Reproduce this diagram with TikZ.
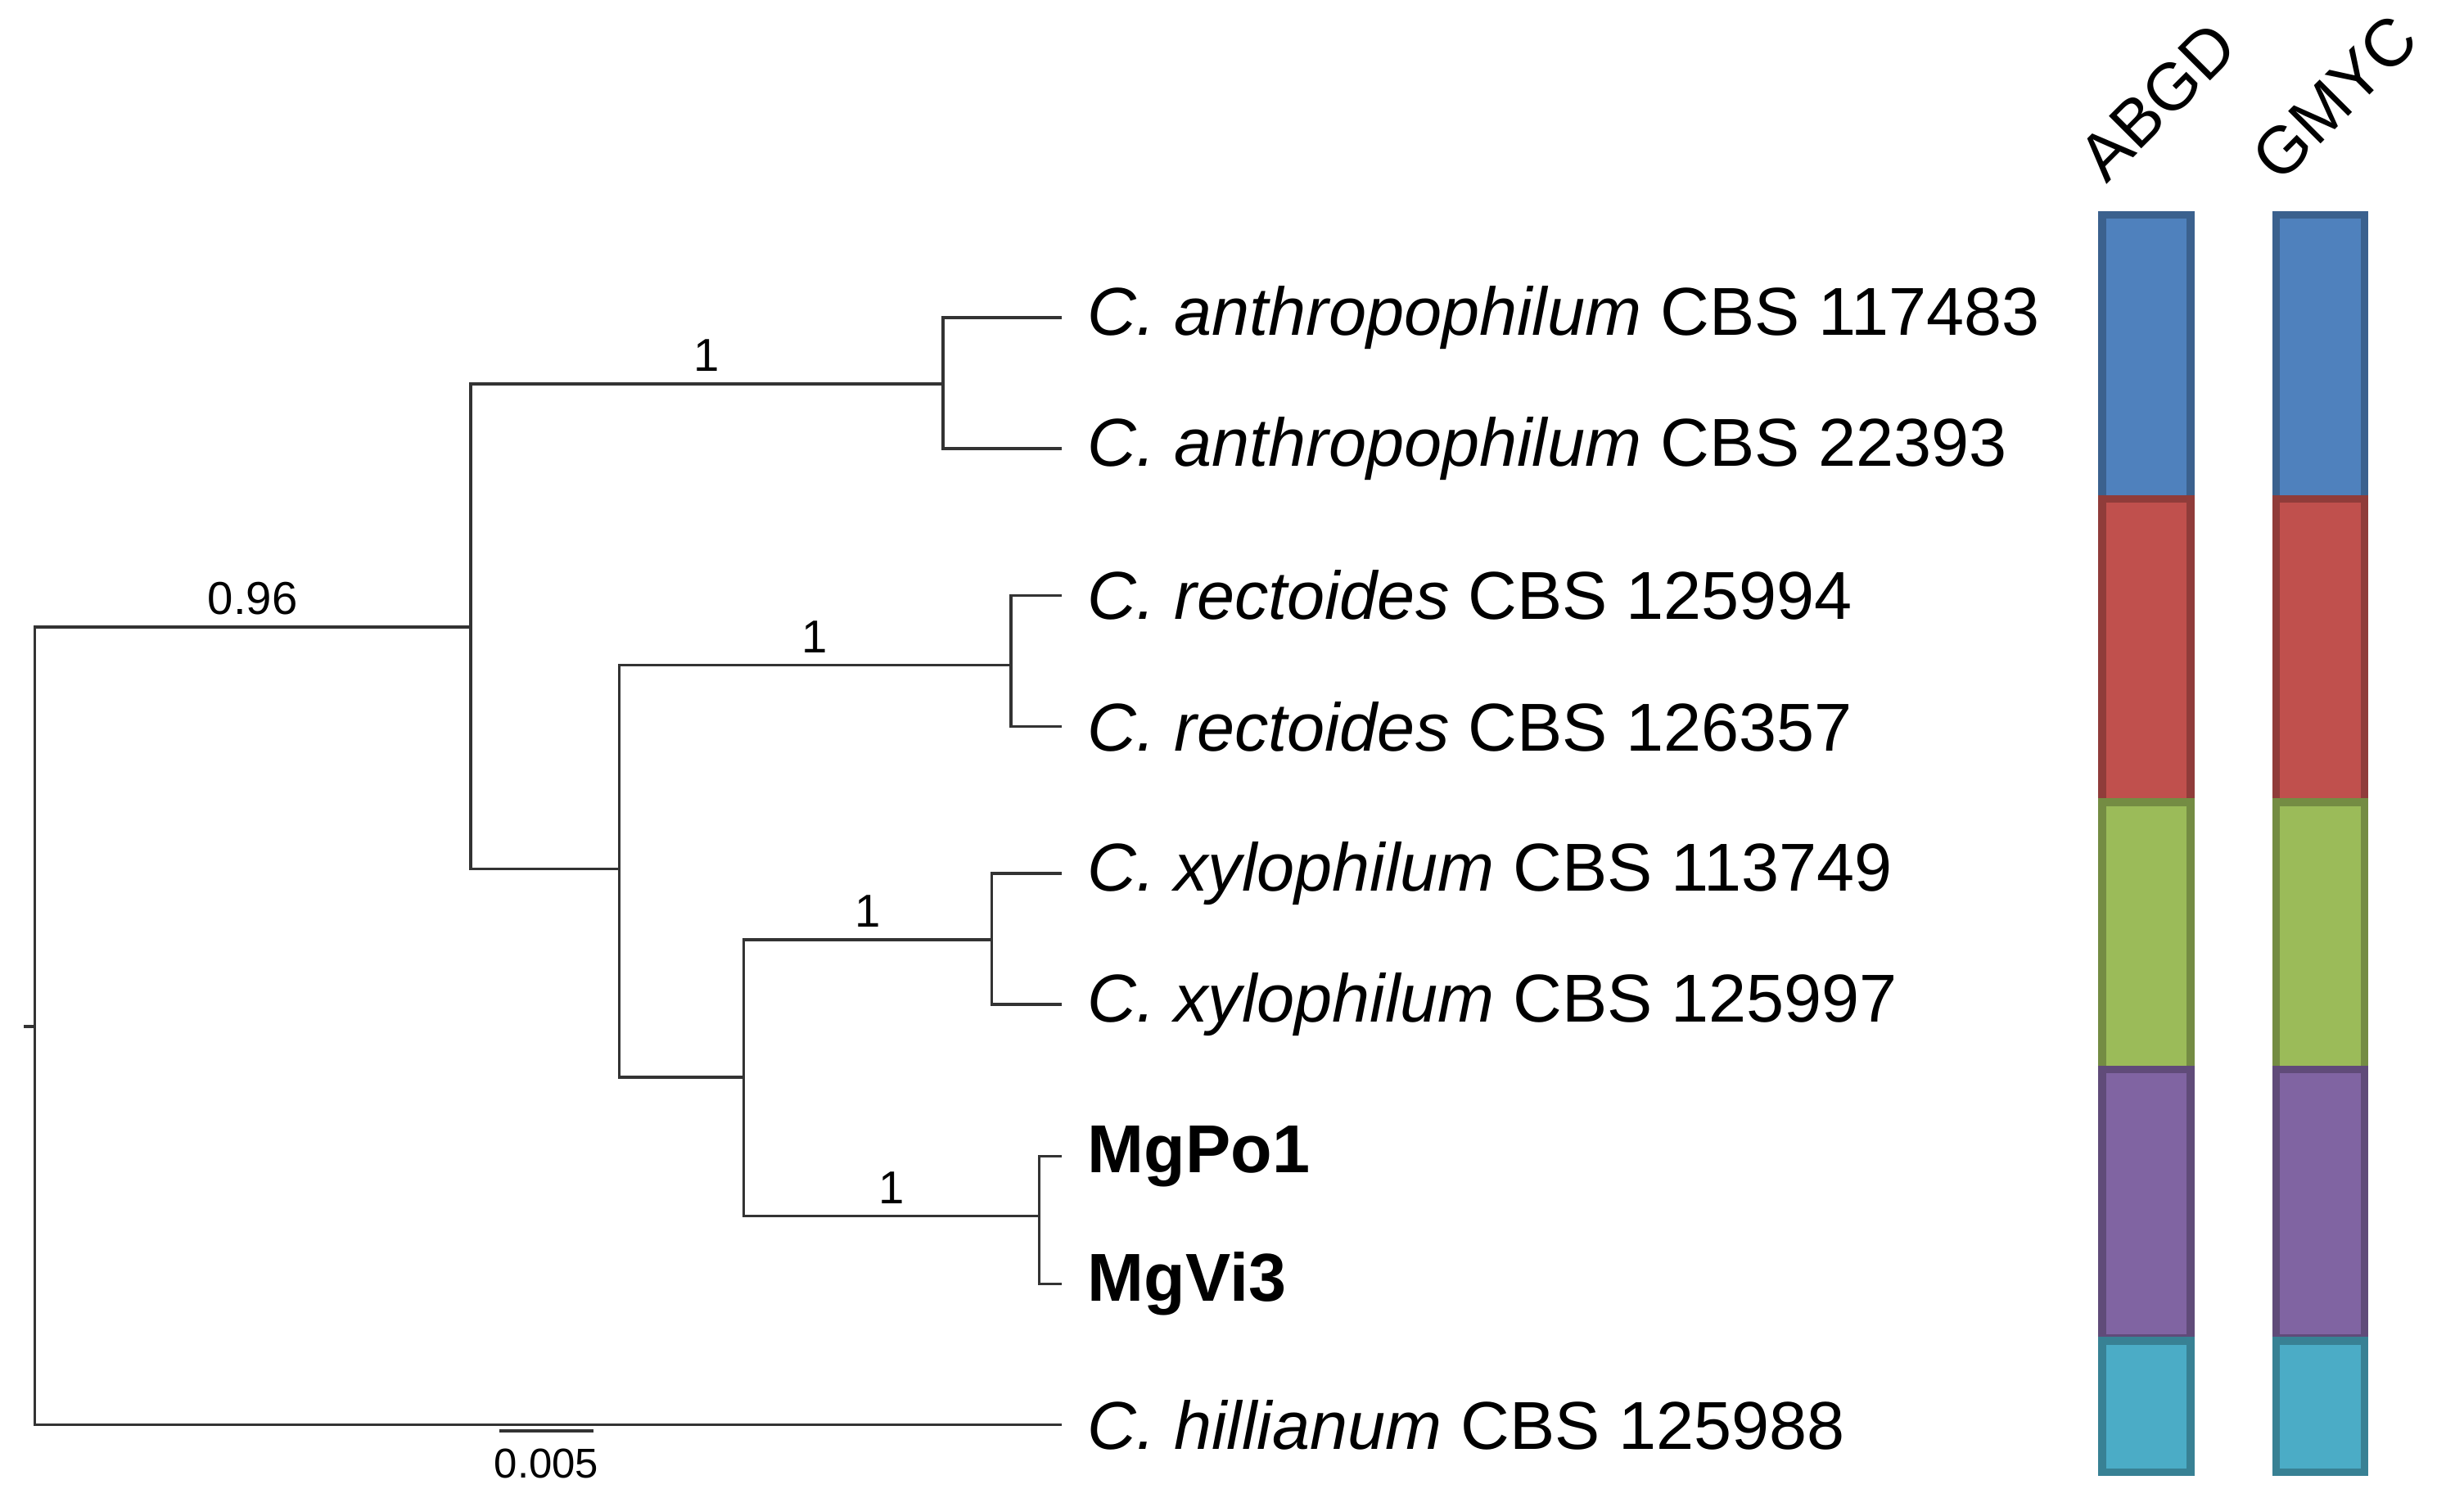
\documentclass[tikz,border=0pt]{standalone}
\usepackage{fontspec}
\setmainfont{Liberation Sans}
\begin{document}
\begin{tikzpicture}[x=0.01cm,y=-0.01cm,
    branch/.style={draw=black!80,line width=0.5pt},
    tip node/.style={anchor=west,inner sep=0pt,font=\fontsize{12.2}{14}\selectfont},
    sup node/.style={above,inner sep=2pt,font=\fontsize{8.3}{10}\selectfont},
    bar/.style={line width=1.4pt}]
\useasboundingbox (0,0) rectangle (1560,954);
\definecolor{cblue}{HTML}{4F81BD}\definecolor{cred}{HTML}{C0504D}
\definecolor{cgreen}{HTML}{9BBB59}\definecolor{cpurple}{HTML}{8064A2}
\definecolor{ccyan}{HTML}{4BACC6}

% tips
\node[tip node] (A1) at (688,201) {\itshape C. anthropophilum\upshape\ CBS 117483};
\node[tip node] (A2) at (688,284) {\itshape C. anthropophilum\upshape\ CBS 22393};
\node[tip node] (R1) at (688,377) {\itshape C. rectoides\upshape\ CBS 125994};
\node[tip node] (R2) at (688,460) {\itshape C. rectoides\upshape\ CBS 126357};
\node[tip node] (X1) at (688,553) {\itshape C. xylophilum\upshape\ CBS 113749};
\node[tip node] (X2) at (688,636) {\itshape C. xylophilum\upshape\ CBS 125997};
\node[tip node] (M1) at (688,732) {\bfseries MgPo1};
\node[tip node] (M2) at (688,813) {\bfseries MgVi3};
\node[tip node] (H)  at (688,902) {\itshape C. hillianum\upshape\ CBS 125988};

% internal nodes
\coordinate (root) at (22,650);
\coordinate (nU) at (298,397);
\coordinate (nA) at (597,243);
\coordinate (nB) at (392,550);
\coordinate (nR) at (640,421);
\coordinate (nC) at (471,682);
\coordinate (nX) at (628,595);
\coordinate (nM) at (658,770);

\path[branch]
  (15,650) -- (root)
  (root) |- (nU) node[sup node,pos=0.75] {0.96}
  (root) |- ([xshift=-0.16cm]H.west)
  (nU) |- (nA) node[sup node,pos=0.75] {1}
  (nU) |- (nB)
  (nA) |- ([xshift=-0.16cm]A1.west)
  (nA) |- ([xshift=-0.16cm]A2.west)
  (nB) |- (nR) node[sup node,pos=0.75] {1}
  (nB) |- (nC)
  (nR) |- ([xshift=-0.16cm]R1.west)
  (nR) |- ([xshift=-0.16cm]R2.west)
  (nC) |- (nX) node[sup node,pos=0.75] {1}
  (nC) |- (nM) node[sup node,pos=0.75] {1}
  (nX) |- ([xshift=-0.16cm]X1.west)
  (nX) |- ([xshift=-0.16cm]X2.west)
  (nM) |- ([xshift=-0.16cm]M1.west)
  (nM) |- ([xshift=-0.16cm]M2.west);

% scale bar
\draw[branch] (316,906) -- (376,906) node[midway,below,inner sep=3pt,font=\fontsize{7.5}{9}\selectfont] {0.005};

% species bars
\foreach \bx/\lab in {1359/ABGD,1469/GMYC}{
  \foreach \ya/\yb/\col in {136/316/cblue,316/508/cred,508/677/cgreen,677/847/cpurple,849/932/ccyan}
    \draw[bar,draw=\col!75!black,fill=\col] (\bx-28,\ya) rectangle (\bx+28,\yb);
  \node[rotate=45,anchor=south west,inner sep=0pt,font=\fontsize{12}{14}\selectfont] at (\bx-25,118) {\lab};
}
\end{tikzpicture}
\end{document}
